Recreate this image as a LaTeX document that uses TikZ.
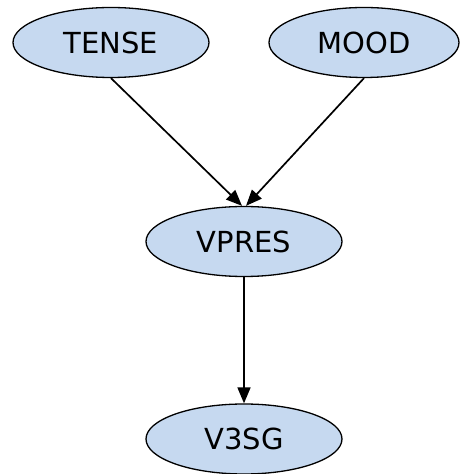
\documentclass[tikz,border=0pt]{standalone}
\usepackage{fontspec}
\setmainfont{DejaVu Sans}
\usetikzlibrary{shapes.geometric,arrows.meta}
\definecolor{nodefill}{HTML}{C6D9F0}
\begin{document}
\begin{tikzpicture}[x=1pt,y=1pt,
  var/.style={ellipse,draw=black,line width=1.3pt,fill=nodefill,inner sep=0pt,
    minimum width=196pt,minimum height=70pt,font=\fontsize{29}{33}\selectfont},
  link/.style={line width=1.7pt,-{Triangle[length=16pt,width=13pt]}}]
\useasboundingbox (0,0) rectangle (460,474);
\node[var] (tense) at (111,431.5) {TENSE};
\node[var,minimum width=190pt] (mood) at (364,431.5) {MOOD};
\node[var] (vpres) at (244,232.5) {VPRES};
\node[var] (v3sg) at (244,35) {V3SG};
\draw[link] (tense.south) -- ([xshift=-2pt]vpres.north);
\draw[link] (mood.south) -- ([xshift=2pt]vpres.north);
\draw[link] (vpres.south) -- (v3sg.north);
\end{tikzpicture}
\end{document}
